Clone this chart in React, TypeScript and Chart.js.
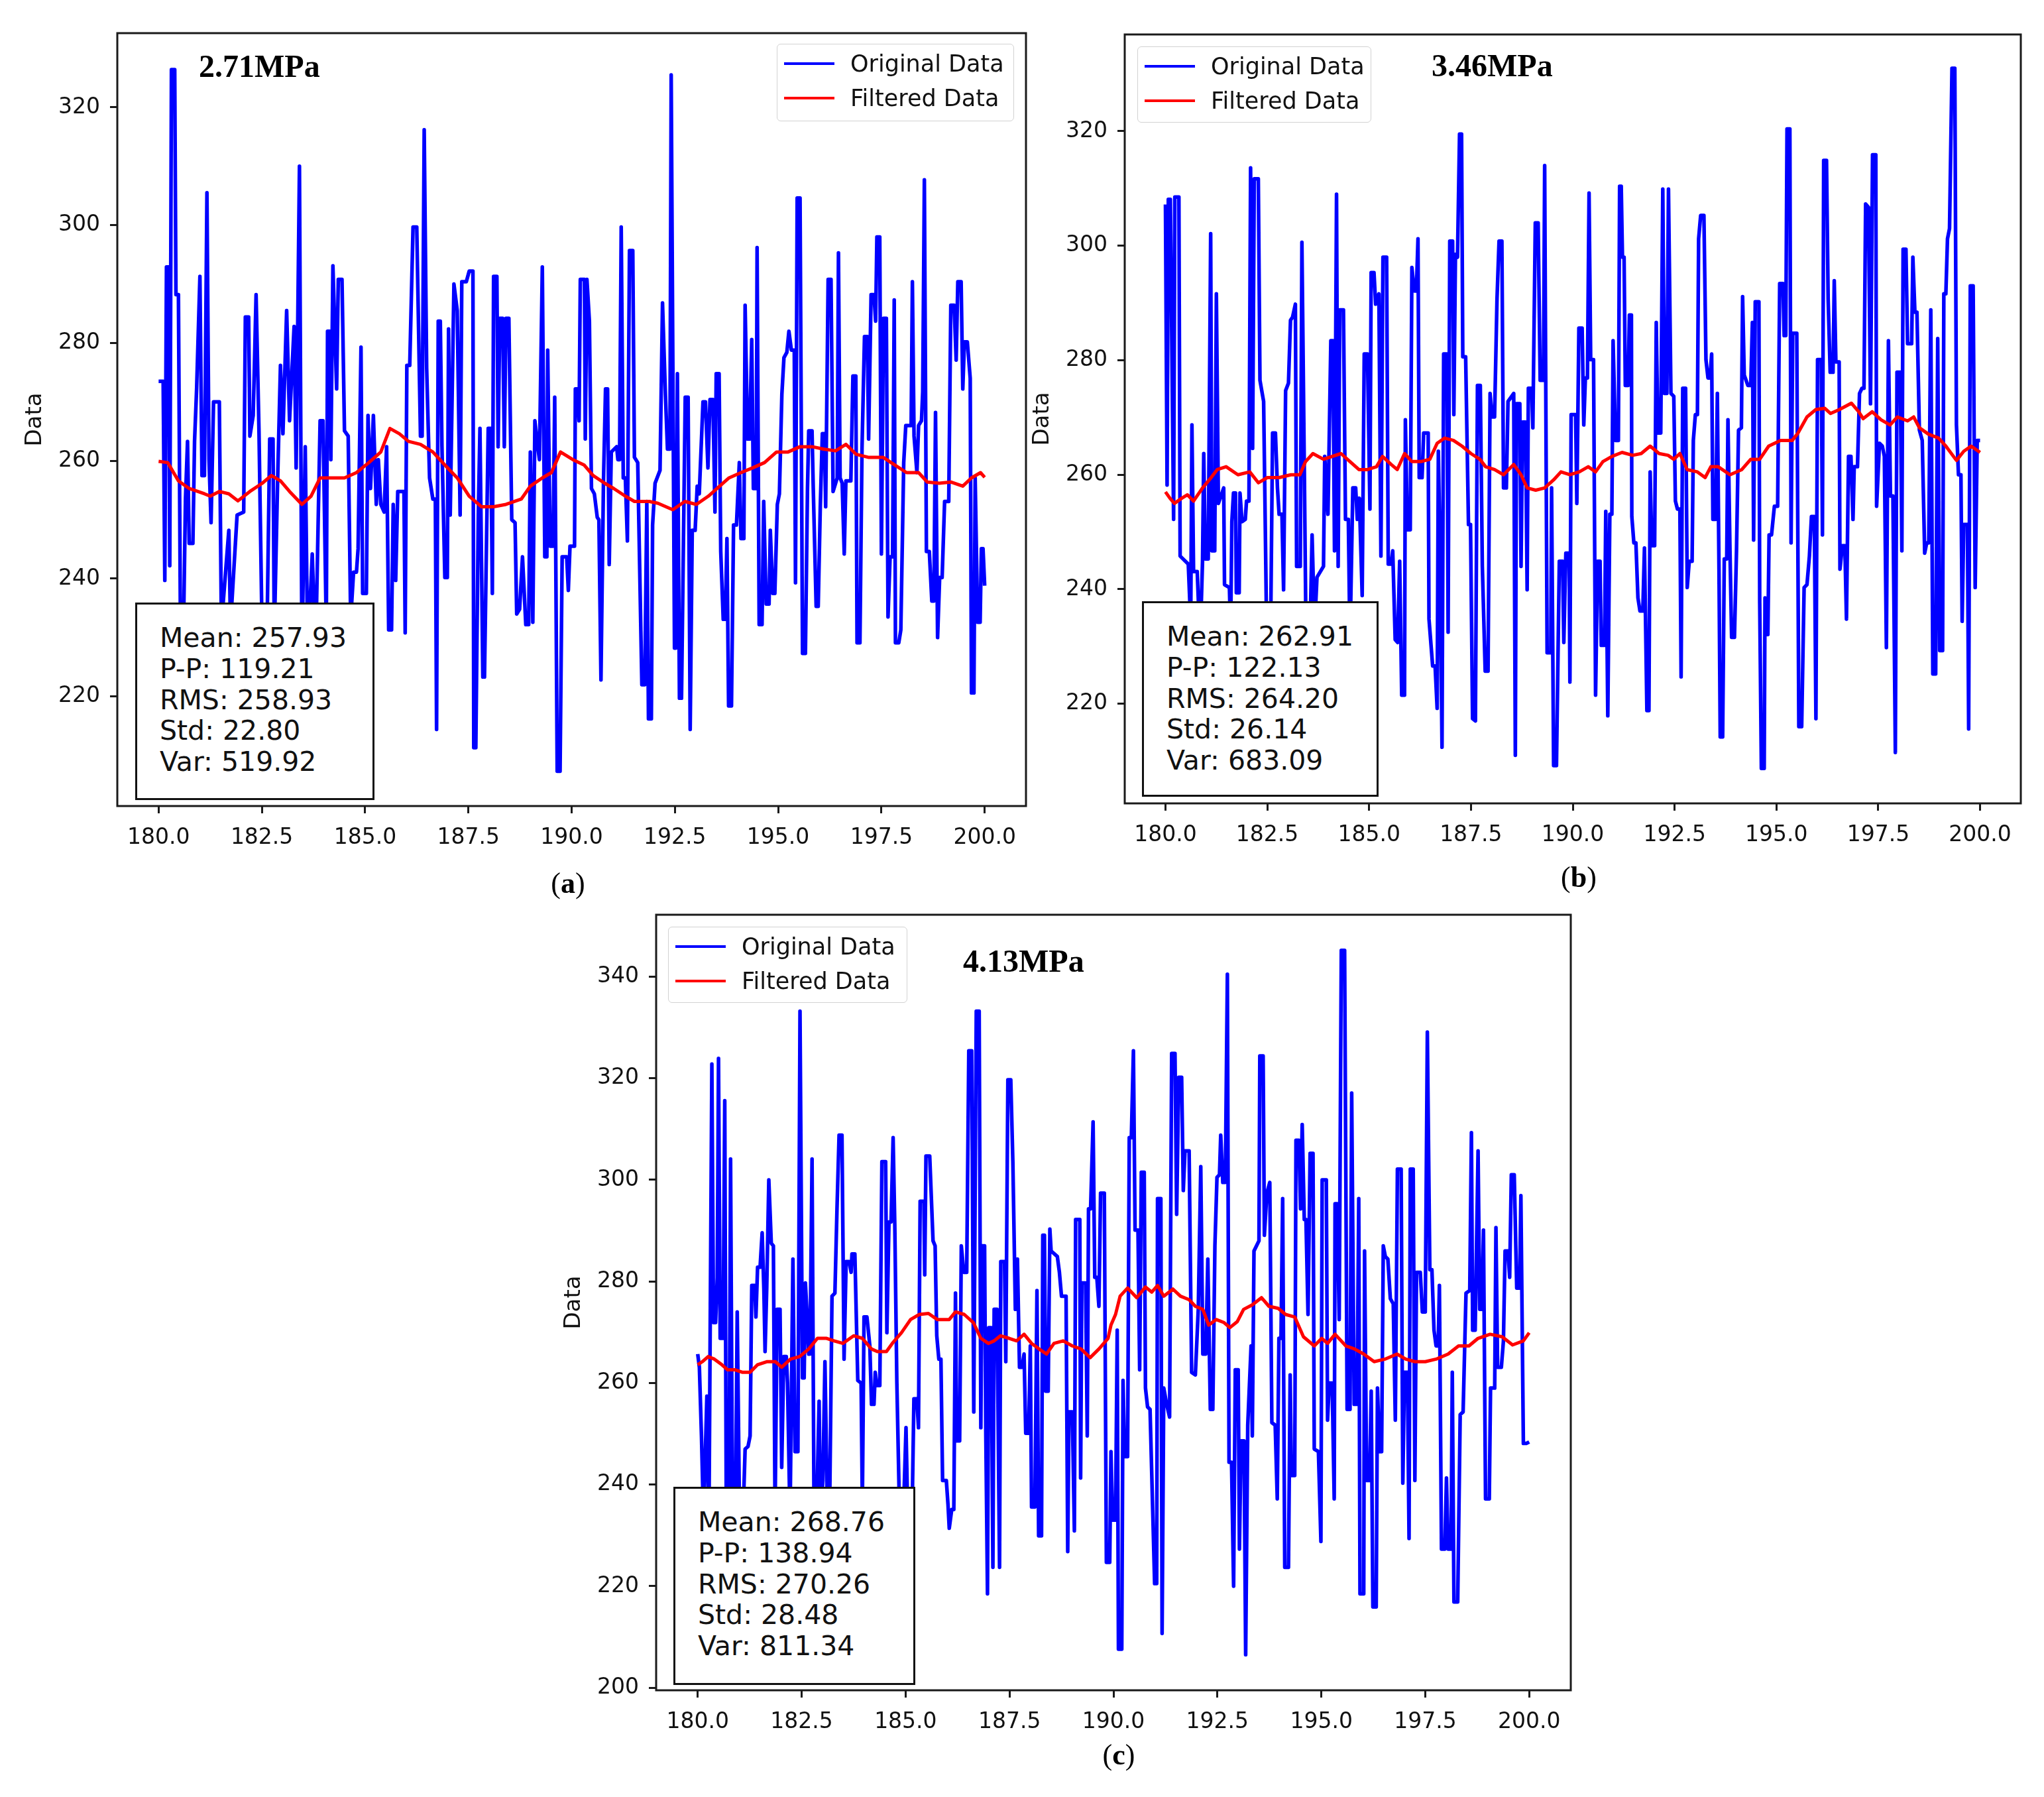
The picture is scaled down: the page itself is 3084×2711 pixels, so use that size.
import { useEffect, useRef } from 'react';
import { Chart, registerables } from 'chart.js';

Chart.register(...registerables);
Chart.defaults.font.family = 'DejaVu Sans';

// ---- panel (a) 2.71MPa ----
const aOrigT = [
  180.00, 180.11, 180.15, 180.19, 180.24, 180.27, 180.31, 180.39, 180.42, 180.48,
  180.53, 180.60, 180.65, 180.70, 180.74, 180.83, 180.87, 180.92, 181.00, 181.05,
  181.11, 181.17, 181.22, 181.27, 181.33, 181.47, 181.52, 181.70, 181.74, 181.90,
  182.06, 182.10, 182.18, 182.21, 182.29, 182.36, 182.43, 182.51, 182.62, 182.69,
  182.77, 182.80, 182.88, 182.95, 183.01, 183.10, 183.17, 183.28, 183.33, 183.41,
  183.47, 183.55, 183.61, 183.72, 183.80, 183.91, 183.98, 184.06, 184.09, 184.14,
  184.17, 184.22, 184.31, 184.35, 184.44, 184.50, 184.59, 184.65, 184.72, 184.79,
  184.83, 184.90, 184.94, 185.03, 185.07, 185.13, 185.20, 185.27, 185.32, 185.38,
  185.46, 185.52, 185.57, 185.64, 185.68, 185.74, 185.79, 185.94, 185.97, 186.01,
  186.08, 186.16, 186.25, 186.34, 186.38, 186.43, 186.49, 186.56, 186.64, 186.70,
  186.73, 186.77, 186.82, 186.86, 186.93, 186.99, 187.02, 187.06, 187.15, 187.23,
  187.30, 187.34, 187.45, 187.52, 187.61, 187.63, 187.68, 187.74, 187.78, 187.85,
  187.89, 187.98, 188.04, 188.08, 188.11, 188.19, 188.22, 188.26, 188.33, 188.37,
  188.41, 188.48, 188.55, 188.63, 188.67, 188.74, 188.81, 188.89, 188.96, 189.00,
  189.06, 189.11, 189.18, 189.22, 189.29, 189.35, 189.40, 189.42, 189.48, 189.55,
  189.59, 189.65, 189.72, 189.77, 189.88, 189.92, 189.96, 190.07, 190.09, 190.14,
  190.18, 190.21, 190.31, 190.33, 190.37, 190.43, 190.48, 190.55, 190.62, 190.66,
  190.71, 190.77, 190.82, 190.87, 190.91, 190.96, 191.09, 191.12, 191.16, 191.20,
  191.25, 191.30, 191.35, 191.40, 191.48, 191.52, 191.60, 191.70, 191.77, 191.82,
  191.86, 191.93, 191.96, 192.02, 192.14, 192.20, 192.27, 192.32, 192.38, 192.41,
  192.49, 192.52, 192.56, 192.61, 192.66, 192.75, 192.82, 192.87, 192.92, 192.99,
  193.04, 193.09, 193.18, 193.24, 193.30, 193.35, 193.42, 193.47, 193.50, 193.57,
  193.61, 193.67, 193.72, 193.76, 193.80, 193.87, 193.92, 193.99, 194.06, 194.10,
  194.17, 194.20, 194.26, 194.31, 194.36, 194.40, 194.47, 194.49, 194.54, 194.61,
  194.65, 194.71, 194.78, 194.81, 194.87, 194.92, 194.98, 195.03, 195.09, 195.14,
  195.21, 195.26, 195.32, 195.39, 195.42, 195.46, 195.53, 195.59, 195.66, 195.71,
  195.74, 195.82, 195.85, 195.92, 195.97, 196.02, 196.07, 196.12, 196.15, 196.21,
  196.28, 196.33, 196.43, 196.46, 196.50, 196.55, 196.60, 196.64, 196.76, 196.81,
  196.88, 196.91, 196.98, 197.03, 197.09, 197.16, 197.19, 197.25, 197.32, 197.36,
  197.39, 197.46, 197.50, 197.55, 197.62, 197.66, 197.71, 197.77, 197.81, 197.84,
  197.92, 197.97, 198.04, 198.09, 198.22, 198.25, 198.29, 198.36, 198.40, 198.47,
  198.50, 198.54, 198.59, 198.66, 198.72, 198.77, 198.81, 198.86, 198.91, 198.97,
  199.03, 199.13, 199.18, 199.26, 199.31, 199.35, 199.43, 199.47, 199.51, 199.58,
  199.65, 199.68, 199.74, 199.77, 199.83, 199.89, 199.92, 199.96, 200.00,
];
const aOrigV = [
  273.5, 273.5, 239.7, 292.9, 292.9, 242.2, 326.4, 326.4, 288.2, 288.2,
  230.0, 230.0, 253.5, 263.3, 246.0, 246.0, 263.3, 272.2, 291.3, 257.5,
  257.5, 305.5, 260.2, 249.5, 270.0, 270.0, 232.0, 248.2, 232.0, 250.8,
  251.3, 284.4, 284.4, 264.2, 267.7, 288.2, 265.1, 228.6, 228.6, 263.7,
  263.7, 230.0, 256.2, 276.2, 264.6, 285.5, 266.8, 282.8, 258.8, 310.0,
  226.8, 262.4, 226.8, 244.2, 226.8, 266.8, 266.8, 231.3, 282.0, 282.0,
  260.2, 293.1, 272.2, 290.8, 290.8, 265.1, 264.2, 233.0, 241.1, 241.1,
  245.1, 279.3, 237.5, 237.5, 267.7, 255.3, 267.7, 252.6, 260.2, 252.6,
  251.3, 262.4, 231.3, 231.3, 252.6, 239.7, 254.8, 254.8, 230.8, 276.2,
  276.2, 299.7, 299.7, 264.2, 264.2, 316.2, 275.7, 257.1, 253.5, 253.5,
  214.4, 283.7, 283.7, 262.4, 240.2, 240.2, 282.4, 250.8, 290.0, 285.5,
  250.8, 290.4, 290.4, 292.2, 292.2, 211.3, 211.3, 250.8, 265.5, 223.3,
  223.3, 265.5, 265.5, 237.5, 291.3, 291.3, 262.4, 284.2, 284.2, 262.4,
  284.2, 284.2, 250.0, 249.5, 234.0, 234.8, 243.7, 232.2, 232.2, 261.5,
  232.6, 266.8, 262.4, 260.2, 292.9, 243.7, 243.7, 278.8, 245.5, 245.5,
  270.8, 207.3, 207.3, 243.7, 243.7, 238.0, 245.5, 245.5, 272.2, 272.2,
  266.8, 290.8, 290.8, 263.7, 290.8, 283.7, 255.3, 254.4, 250.4, 250.0,
  222.8, 256.2, 272.2, 272.2, 242.4, 261.5, 262.4, 260.2, 260.2, 299.7,
  257.1, 257.1, 246.4, 295.7, 295.7, 260.6, 259.7, 222.0, 222.0, 253.1,
  216.2, 216.2, 249.1, 256.2, 258.4, 286.8, 271.3, 262.0, 262.0, 325.5,
  228.2, 228.2, 274.8, 219.7, 219.7, 270.8, 270.8, 214.4, 248.2, 248.2,
  255.7, 254.4, 270.0, 270.0, 258.8, 270.4, 270.4, 251.3, 274.8, 274.8,
  244.6, 233.1, 233.1, 246.8, 218.4, 218.4, 249.1, 249.1, 259.7, 246.8,
  246.8, 286.4, 263.7, 263.7, 280.6, 255.3, 255.3, 296.2, 232.2, 232.2,
  253.1, 235.7, 235.7, 248.2, 237.5, 237.5, 252.6, 254.4, 271.3, 277.5,
  278.4, 282.0, 278.8, 278.8, 239.3, 304.6, 304.6, 227.3, 227.3, 255.3,
  265.1, 265.1, 255.3, 235.3, 235.3, 252.2, 264.6, 264.6, 252.2, 290.8,
  290.8, 254.8, 257.1, 295.3, 257.1, 256.2, 244.2, 256.6, 256.6, 274.4,
  274.4, 229.1, 229.1, 262.0, 281.1, 281.1, 263.7, 288.2, 288.2, 283.7,
  298.0, 298.0, 244.2, 284.2, 284.2, 233.5, 243.7, 243.7, 287.3, 229.1,
  229.1, 231.3, 259.7, 266.0, 266.0, 290.4, 264.2, 258.0, 266.0, 266.8,
  271.7, 307.7, 244.6, 244.6, 236.2, 236.2, 268.2, 230.0, 240.2, 240.2,
  253.1, 253.1, 286.4, 286.4, 277.1, 290.4, 290.4, 272.2, 280.2, 280.2,
  274.0, 220.6, 220.6, 257.1, 232.6, 232.6, 245.1, 245.1, 238.8,
];
const aFiltT = [
  180.00, 180.22, 180.48, 180.74, 181.11, 181.25, 181.47, 181.70, 181.92, 182.21,
  182.51, 182.73, 182.95, 183.17, 183.47, 183.69, 183.91, 184.20, 184.50, 184.79,
  185.09, 185.38, 185.60, 185.83, 186.05, 186.34, 186.64, 186.93, 187.23, 187.52,
  187.82, 188.11, 188.41, 188.78, 189.00, 189.29, 189.51, 189.73, 190.03, 190.30,
  190.52, 190.80, 191.02, 191.30, 191.52, 191.88, 192.09, 192.45, 192.74, 193.02,
  193.31, 193.52, 193.81, 194.10, 194.38, 194.67, 194.96, 195.24, 195.53, 195.82,
  196.10, 196.39, 196.64, 196.89, 197.18, 197.54, 197.82, 198.11, 198.40, 198.61,
  198.90, 199.18, 199.47, 199.68, 199.90, 200.00,
];
const aFiltV = [
  259.9, 259.7, 256.6, 255.3, 254.4, 254.0, 254.8, 254.4, 253.2, 254.8,
  256.2, 257.5, 256.6, 254.8, 252.6, 254.0, 257.1, 257.1, 257.1, 258.0,
  259.7, 261.5, 265.5, 264.6, 263.3, 262.8, 261.5, 259.3, 257.1, 254.0,
  252.2, 252.2, 252.6, 253.5, 255.7, 257.1, 258.0, 261.5, 260.2, 259.3,
  257.5, 256.2, 255.3, 254.0, 253.1, 253.1, 252.8, 251.7, 253.1, 252.6,
  254.0, 255.3, 257.1, 258.0, 258.8, 259.7, 261.5, 261.5, 262.4, 262.4,
  262.0, 261.7, 262.8, 261.1, 260.6, 260.6, 259.3, 258.0, 258.0, 256.4,
  256.2, 256.4, 255.7, 257.1, 258.0, 257.2,
];
const aStats = ['Mean: 257.93', 'P-P: 119.21', 'RMS: 258.93', 'Std: 22.80', 'Var: 519.92'];

// ---- panel (b) 3.46MPa ----
const bOrigT = [
  180.00, 180.04, 180.07, 180.12, 180.20, 180.23, 180.33, 180.36, 180.43, 180.56,
  180.62, 180.65, 180.69, 180.78, 180.85, 180.91, 180.94, 180.98, 181.05, 181.11,
  181.14, 181.21, 181.25, 181.30, 181.43, 181.45, 181.57, 181.60, 181.63, 181.67,
  181.72, 181.74, 181.81, 181.83, 181.88, 181.96, 181.99, 182.05, 182.09, 182.14,
  182.18, 182.28, 182.32, 182.41, 182.44, 182.50, 182.57, 182.63, 182.70, 182.75,
  182.79, 182.86, 182.90, 182.95, 183.02, 183.07, 183.12, 183.19, 183.22, 183.31,
  183.35, 183.41, 183.46, 183.53, 183.60, 183.66, 183.72, 183.88, 183.91, 183.99,
  184.06, 184.11, 184.15, 184.20, 184.24, 184.28, 184.37, 184.42, 184.49, 184.53,
  184.60, 184.67, 184.71, 184.76, 184.83, 184.88, 184.96, 185.02, 185.05, 185.12,
  185.16, 185.24, 185.29, 185.34, 185.43, 185.47, 185.54, 185.58, 185.64, 185.70,
  185.75, 185.80, 185.87, 185.89, 185.94, 186.01, 186.05, 186.11, 186.16, 186.20,
  186.23, 186.30, 186.34, 186.45, 186.47, 186.56, 186.62, 186.67, 186.70, 186.74,
  186.79, 186.83, 186.91, 186.94, 186.98, 187.05, 187.08, 187.12, 187.17, 187.22,
  187.27, 187.30, 187.37, 187.44, 187.49, 187.54, 187.61, 187.66, 187.73, 187.78,
  187.85, 187.92, 187.97, 188.02, 188.08, 188.14, 188.19, 188.26, 188.30, 188.37,
  188.41, 188.55, 188.59, 188.62, 188.70, 188.73, 188.77, 188.84, 188.88, 188.91,
  188.99, 189.02, 189.08, 189.15, 189.20, 189.28, 189.31, 189.37, 189.46, 189.48,
  189.53, 189.60, 189.67, 189.75, 189.78, 189.83, 189.91, 189.93, 189.96, 190.07,
  190.10, 190.15, 190.23, 190.27, 190.31, 190.36, 190.40, 190.44, 190.51, 190.56,
  190.61, 190.67, 190.70, 190.78, 190.81, 190.86, 190.91, 190.96, 190.99, 191.05,
  191.12, 191.15, 191.19, 191.22, 191.26, 191.29, 191.36, 191.39, 191.44, 191.45,
  191.50, 191.55, 191.60, 191.65, 191.72, 191.76, 191.82, 191.87, 191.90, 191.94,
  192.01, 192.05, 192.09, 192.16, 192.21, 192.25, 192.31, 192.35, 192.41, 192.48,
  192.52, 192.57, 192.63, 192.66, 192.70, 192.77, 192.81, 192.86, 192.93, 192.96,
  193.01, 193.06, 193.09, 193.14, 193.22, 193.27, 193.32, 193.37, 193.41, 193.44,
  193.51, 193.55, 193.59, 193.62, 193.68, 193.72, 193.78, 193.81, 193.86, 193.90,
  193.97, 194.02, 194.07, 194.14, 194.17, 194.21, 194.30, 194.37, 194.41, 194.44,
  194.48, 194.57, 194.59, 194.63, 194.70, 194.72, 194.75, 194.79, 194.82, 194.88,
  194.95, 195.03, 195.08, 195.16, 195.19, 195.23, 195.26, 195.33, 195.36, 195.40,
  195.50, 195.55, 195.62, 195.68, 195.75, 195.81, 195.86, 195.93, 195.97, 196.01,
  196.10, 196.13, 196.16, 196.23, 196.27, 196.32, 196.39, 196.42, 196.46, 196.54,
  196.56, 196.62, 196.68, 196.72, 196.77, 196.83, 196.88, 196.91, 196.99, 197.04,
  197.10, 197.15, 197.19, 197.26, 197.31, 197.36, 197.44, 197.46, 197.53, 197.60,
  197.65, 197.70, 197.75, 197.80, 197.86, 197.92, 197.96, 198.04, 198.08, 198.11,
  198.18, 198.22, 198.32, 198.35, 198.40, 198.45, 198.51, 198.58, 198.64, 198.69,
  198.74, 198.79, 198.84, 198.91, 198.96, 199.01, 199.08, 199.11, 199.16, 199.20,
  199.25, 199.31, 199.38, 199.42, 199.47, 199.53, 199.56, 199.60, 199.69, 199.72,
  199.76, 199.83, 199.88, 199.93, 200.00,
];
const bOrigV = [
  307.2, 258.2, 308.1, 308.1, 252.2, 308.5, 308.5, 245.8, 245.3, 244.4,
  233.9, 268.7, 243.1, 243.1, 230.2, 244.9, 263.7, 245.3, 245.3, 302.1,
  246.7, 246.7, 291.6, 255.0, 257.7, 240.8, 240.3, 232.1, 251.8, 256.8,
  256.8, 239.4, 239.4, 256.8, 251.8, 252.2, 255.4, 255.4, 313.6, 264.6,
  311.7, 311.7, 276.5, 272.8, 256.8, 223.8, 223.8, 267.3, 267.3, 257.7,
  253.1, 253.1, 239.9, 274.7, 276.0, 287.0, 287.5, 289.8, 244.0, 244.0,
  300.6, 260.5, 225.7, 225.7, 249.5, 233.0, 242.1, 244.0, 263.2, 253.1,
  283.4, 283.4, 246.7, 309.0, 244.0, 288.8, 288.8, 252.2, 252.2, 230.2,
  257.7, 257.7, 252.2, 255.9, 238.9, 281.1, 281.1, 254.0, 295.3, 295.3,
  289.8, 291.6, 245.8, 298.0, 298.0, 244.4, 244.4, 246.7, 231.2, 230.7,
  244.9, 221.5, 221.5, 269.6, 250.4, 250.4, 296.2, 292.1, 292.1, 301.2,
  259.5, 259.5, 267.3, 267.3, 234.8, 226.6, 226.6, 219.2, 264.1, 246.7,
  212.4, 281.1, 281.1, 232.5, 300.8, 300.8, 270.5, 298.5, 298.0, 319.5,
  319.5, 280.6, 280.6, 251.3, 251.3, 217.4, 217.0, 275.6, 275.6, 244.0,
  225.7, 225.7, 274.2, 270.1, 270.1, 290.7, 300.8, 300.8, 257.7, 257.7,
  272.8, 274.2, 211.0, 272.4, 272.4, 244.0, 269.2, 269.2, 239.9, 275.1,
  275.1, 268.2, 304.0, 304.0, 276.5, 276.5, 314.0, 228.9, 228.9, 257.7,
  209.2, 209.2, 244.9, 244.9, 230.7, 246.3, 246.3, 223.8, 270.5, 270.5,
  255.0, 285.6, 285.6, 268.7, 276.9, 276.9, 309.2, 280.1, 280.1, 221.5,
  244.9, 244.9, 230.2, 230.2, 253.6, 217.9, 253.1, 253.1, 283.4, 266.0,
  266.0, 310.4, 310.4, 298.0, 298.0, 275.6, 275.6, 287.9, 287.9, 252.7,
  248.1, 248.1, 238.5, 236.2, 236.2, 247.2, 218.8, 218.8, 260.5, 247.6,
  247.6, 286.6, 267.3, 267.3, 309.9, 274.2, 274.2, 309.9, 274.2, 273.7,
  255.4, 254.0, 254.0, 224.7, 275.1, 275.1, 240.3, 244.9, 244.9, 266.0,
  270.5, 270.5, 301.2, 305.3, 305.3, 280.1, 276.9, 276.9, 281.1, 252.2,
  252.2, 274.2, 243.5, 214.2, 214.2, 245.3, 245.3, 269.6, 246.7, 231.6,
  231.6, 246.7, 267.8, 268.2, 291.1, 277.4, 275.6, 275.6, 286.6, 248.6,
  290.2, 290.2, 237.6, 208.7, 208.7, 238.5, 232.1, 232.1, 249.5, 249.5,
  254.5, 254.5, 293.4, 293.4, 284.3, 284.3, 320.4, 320.4, 248.1, 284.7,
  284.7, 216.0, 216.0, 240.3, 240.8, 245.8, 252.7, 252.7, 217.4, 280.1,
  280.1, 249.5, 314.9, 314.9, 290.7, 277.9, 277.9, 293.9, 279.7, 279.7,
  243.5, 247.6, 247.6, 234.8, 263.2, 263.2, 252.2, 261.4, 261.4, 274.2,
  275.1, 275.1, 307.3, 306.7, 272.4, 315.9, 315.9, 254.5, 265.5, 265.0,
  263.2, 229.8, 283.4, 256.3, 256.3, 211.5, 277.9, 277.9, 246.7, 299.4,
  299.4, 282.9, 282.9, 298.0, 288.4, 288.4, 267.8, 266.0, 246.3, 248.1,
  248.1, 288.8, 225.2, 225.2, 283.8, 229.3, 229.3, 291.6, 291.6, 301.2,
  303.0, 331.0, 331.0, 268.7, 260.0, 260.0, 234.4, 251.3, 251.3, 215.6,
  293.0, 293.0, 240.3, 266.0, 266.0,
];
const bFiltT = [
  180.00, 180.11, 180.22, 180.40, 180.54, 180.69, 180.91, 181.12, 181.27, 181.49,
  181.78, 182.07, 182.28, 182.50, 182.79, 183.08, 183.30, 183.44, 183.62, 183.88,
  184.09, 184.31, 184.53, 184.75, 184.96, 185.18, 185.33, 185.54, 185.69, 185.87,
  186.05, 186.27, 186.49, 186.67, 186.85, 187.07, 187.28, 187.50, 187.72, 187.86,
  188.08, 188.30, 188.55, 188.73, 188.88, 189.09, 189.31, 189.53, 189.71, 189.93,
  190.16, 190.38, 190.56, 190.74, 190.96, 191.21, 191.47, 191.68, 191.90, 192.12,
  192.34, 192.48, 192.63, 192.81, 193.06, 193.25, 193.39, 193.57, 193.86, 194.15,
  194.37, 194.59, 194.81, 195.10, 195.39, 195.53, 195.75, 195.97, 196.19, 196.33,
  196.55, 196.84, 197.02, 197.13, 197.35, 197.57, 197.79, 197.97, 198.22, 198.37,
  198.51, 198.73, 198.98, 199.16, 199.42, 199.60, 199.78, 200.00,
];
const bFiltV = [
  257.0, 255.9, 255.0, 255.9, 256.5, 255.4, 257.7, 259.5, 260.9, 261.4,
  260.0, 260.5, 258.6, 259.5, 259.5, 260.0, 260.0, 262.3, 263.7, 262.7,
  263.2, 263.7, 262.3, 260.9, 260.9, 261.4, 263.2, 261.8, 260.9, 263.7,
  262.3, 262.3, 262.7, 265.5, 266.4, 266.0, 265.0, 263.7, 262.7, 261.4,
  260.9, 260.0, 261.8, 260.0, 257.7, 257.3, 257.7, 259.1, 260.5, 260.0,
  260.5, 261.4, 260.5, 262.3, 263.2, 263.9, 263.4, 263.7, 265.0, 263.7,
  263.4, 262.7, 263.7, 260.9, 260.5, 259.5, 261.4, 261.4, 260.0, 260.9,
  262.7, 262.7, 265.0, 266.0, 266.0, 267.3, 270.1, 271.4, 271.6, 270.7,
  271.4, 272.5, 271.0, 269.8, 271.0, 269.6, 268.7, 270.1, 269.4, 270.1,
  268.2, 267.1, 266.4, 265.0, 262.5, 264.1, 265.0, 263.9,
];
const bStats = ['Mean: 262.91', 'P-P: 122.13', 'RMS: 264.20', 'Std: 26.14', 'Var: 683.09'];

// ---- panel (c) 4.13MPa ----
const cOrigT = [
  180.00, 180.04, 180.09, 180.14, 180.22, 180.27, 180.34, 180.38, 180.43, 180.47,
  180.50, 180.54, 180.61, 180.65, 180.69, 180.75, 180.79, 180.84, 180.90, 180.95,
  181.01, 181.08, 181.14, 181.21, 181.26, 181.30, 181.37, 181.40, 181.44, 181.50,
  181.55, 181.59, 181.62, 181.66, 181.71, 181.77, 181.82, 181.86, 181.91, 181.98,
  182.02, 182.07, 182.13, 182.16, 182.22, 182.29, 182.34, 182.41, 182.46, 182.52,
  182.56, 182.59, 182.63, 182.67, 182.70, 182.75, 182.80, 182.85, 182.92, 182.95,
  183.01, 183.06, 183.11, 183.17, 183.23, 183.30, 183.35, 183.40, 183.47, 183.52,
  183.57, 183.64, 183.69, 183.71, 183.78, 183.85, 183.93, 183.96, 184.00, 184.07,
  184.14, 184.18, 184.24, 184.27, 184.31, 184.38, 184.43, 184.52, 184.55, 184.60,
  184.65, 184.70, 184.74, 184.79, 184.86, 184.94, 185.01, 185.06, 185.15, 185.20,
  185.27, 185.31, 185.35, 185.44, 185.46, 185.49, 185.58, 185.66, 185.71, 185.75,
  185.80, 185.85, 185.89, 185.98, 186.02, 186.05, 186.11, 186.16, 186.20, 186.23,
  186.30, 186.34, 186.40, 186.47, 186.52, 186.59, 186.64, 186.70, 186.77, 186.81,
  186.84, 186.90, 186.93, 186.97, 187.00, 187.06, 187.10, 187.13, 187.20, 187.26,
  187.29, 187.38, 187.41, 187.46, 187.53, 187.58, 187.64, 187.69, 187.74, 187.80,
  187.85, 187.89, 187.96, 188.00, 188.03, 188.11, 188.16, 188.20, 188.27, 188.30,
  188.34, 188.37, 188.43, 188.47, 188.50, 188.65, 188.70, 188.75, 188.86, 188.90,
  188.93, 189.01, 189.06, 189.09, 189.19, 189.21, 189.24, 189.33, 189.37, 189.40,
  189.45, 189.51, 189.55, 189.60, 189.65, 189.69, 189.78, 189.83, 189.91, 189.94,
  189.98, 190.05, 190.09, 190.12, 190.20, 190.23, 190.27, 190.34, 190.38, 190.43,
  190.48, 190.52, 190.59, 190.63, 190.67, 190.74, 190.77, 190.82, 190.88, 190.96,
  190.99, 191.04, 191.06, 191.14, 191.17, 191.21, 191.28, 191.35, 191.40, 191.48,
  191.52, 191.57, 191.64, 191.68, 191.72, 191.82, 191.88, 191.97, 192.04, 192.10,
  192.15, 192.22, 192.27, 192.33, 192.39, 192.44, 192.49, 192.55, 192.58, 192.63,
  192.69, 192.74, 192.78, 192.84, 192.89, 192.93, 193.00, 193.03, 193.07, 193.14,
  193.18, 193.23, 193.31, 193.34, 193.38, 193.50, 193.52, 193.60, 193.63, 193.69,
  193.76, 193.81, 193.89, 193.94, 193.98, 194.03, 194.07, 194.12, 194.21, 194.25,
  194.28, 194.36, 194.39, 194.46, 194.50, 194.54, 194.59, 194.63, 194.68, 194.73,
  194.80, 194.83, 194.93, 194.99, 195.02, 195.12, 195.15, 195.19, 195.26, 195.31,
  195.33, 195.38, 195.43, 195.48, 195.56, 195.62, 195.69, 195.73, 195.79, 195.86,
  195.90, 195.93, 196.02, 196.04, 196.09, 196.16, 196.20, 196.24, 196.32, 196.35,
  196.40, 196.45, 196.49, 196.54, 196.60, 196.66, 196.73, 196.78, 196.83, 196.92,
  196.96, 197.00, 197.07, 197.11, 197.14, 197.21, 197.25, 197.29, 197.38, 197.43,
  197.50, 197.55, 197.61, 197.66, 197.71, 197.76, 197.81, 197.84, 197.89, 197.97,
  198.01, 198.05, 198.12, 198.15, 198.19, 198.28, 198.34, 198.41, 198.48, 198.57,
  198.61, 198.64, 198.70, 198.77, 198.81, 198.86, 198.90, 198.95, 199.04, 199.07,
  199.17, 199.20, 199.24, 199.33, 199.38, 199.42, 199.49, 199.53, 199.57, 199.64,
  199.70, 199.77, 199.80, 199.86, 199.93, 200.00,
];
const cOrigV = [
  265.7, 263.1, 249.6, 233.0, 257.4, 232.0, 322.8, 271.9, 271.9, 280.8,
  323.9, 268.8, 268.8, 315.6, 228.8, 228.8, 304.1, 228.8, 228.8, 274.0,
  230.9, 230.9, 247.0, 247.5, 249.6, 279.2, 279.2, 273.0, 282.8, 282.8,
  289.6, 278.7, 266.2, 278.7, 300.0, 287.5, 287.0, 234.0, 274.5, 274.5,
  243.4, 265.2, 265.2, 260.0, 233.0, 284.4, 246.5, 246.5, 333.2, 261.0,
  261.0, 279.7, 273.5, 265.7, 265.7, 304.1, 230.9, 230.9, 256.4, 233.0,
  240.8, 264.2, 239.2, 233.0, 277.1, 277.7, 294.3, 308.8, 308.8, 264.7,
  283.9, 283.9, 281.8, 285.4, 285.4, 260.5, 260.0, 236.1, 273.0, 273.0,
  267.3, 255.8, 255.8, 262.1, 259.5, 259.5, 303.6, 303.6, 269.9, 291.7,
  291.7, 308.3, 291.2, 260.0, 232.0, 232.0, 251.2, 230.9, 230.9, 256.9,
  256.9, 251.2, 295.8, 295.8, 281.3, 304.7, 304.7, 288.0, 287.0, 269.3,
  264.7, 264.7, 240.8, 240.8, 236.1, 231.4, 235.1, 235.1, 277.7, 248.6,
  248.6, 287.0, 281.8, 281.8, 325.4, 325.4, 254.3, 333.2, 333.2, 251.2,
  287.0, 287.0, 249.6, 218.5, 270.9, 270.9, 223.7, 274.5, 274.5, 223.7,
  283.9, 283.9, 264.2, 319.7, 319.7, 303.6, 274.5, 284.4, 263.1, 263.1,
  265.7, 250.1, 250.1, 267.3, 235.6, 235.6, 278.2, 229.9, 229.9, 289.1,
  289.1, 258.4, 258.4, 290.3, 286.0, 284.9, 281.8, 277.1, 277.1, 226.8,
  254.3, 254.3, 230.9, 292.2, 292.2, 241.3, 279.7, 279.7, 249.6, 294.3,
  294.3, 311.4, 280.8, 280.8, 275.1, 297.4, 297.4, 224.7, 224.7, 246.5,
  233.0, 233.0, 270.4, 207.6, 207.6, 260.5, 245.5, 245.5, 308.3, 308.3,
  325.4, 290.1, 290.1, 262.6, 301.5, 301.5, 259.0, 255.3, 254.8, 229.9,
  220.5, 220.5, 296.3, 296.3, 210.7, 259.0, 255.8, 253.3, 324.9, 324.9,
  293.2, 320.2, 320.2, 297.9, 305.7, 305.7, 262.1, 261.6, 274.5, 302.6,
  265.7, 265.7, 284.4, 254.8, 254.8, 287.0, 300.5, 301.0, 308.8, 299.5,
  299.5, 340.5, 244.4, 244.4, 220.0, 262.6, 262.6, 227.3, 248.6, 248.6,
  206.5, 251.7, 267.3, 249.6, 286.0, 288.0, 324.4, 324.4, 289.1, 297.4,
  299.5, 252.2, 251.7, 237.2, 268.8, 268.8, 296.3, 223.7, 223.7, 261.6,
  241.8, 241.8, 307.8, 307.8, 294.3, 310.9, 292.2, 292.2, 273.5, 305.2,
  305.2, 247.0, 246.5, 228.8, 300.0, 300.0, 252.7, 260.0, 260.0, 237.2,
  295.3, 295.3, 272.5, 345.2, 345.2, 254.8, 254.8, 317.1, 255.8, 255.8,
  296.3, 218.5, 218.5, 286.0, 240.8, 240.8, 258.4, 215.9, 215.9, 259.0,
  246.5, 246.5, 287.0, 284.9, 284.4, 276.6, 275.6, 252.7, 302.1, 302.1,
  240.3, 262.1, 262.1, 229.4, 302.1, 302.1, 240.8, 281.8, 281.8, 274.0,
  274.0, 329.1, 282.3, 282.3, 270.4, 267.3, 267.3, 279.2, 227.3, 227.3,
  241.3, 227.3, 227.3, 262.1, 216.9, 216.9, 253.8, 254.3, 277.7, 278.2,
  309.3, 270.4, 270.4, 305.7, 274.5, 274.5, 290.1, 237.2, 237.2, 259.0,
  259.0, 290.6, 263.1, 263.1, 268.3, 286.0, 286.0, 280.8, 301.0, 301.0,
  278.7, 278.7, 296.9, 248.1, 248.1, 248.4,
];
const cFiltT = [
  180.00, 180.11, 180.25, 180.40, 180.58, 180.72, 180.90, 181.08, 181.26, 181.44,
  181.66, 181.87, 182.02, 182.23, 182.45, 182.67, 182.88, 183.10, 183.28, 183.49,
  183.75, 183.96, 184.18, 184.32, 184.54, 184.68, 184.90, 185.12, 185.33, 185.55,
  185.76, 186.05, 186.20, 186.41, 186.63, 186.81, 186.99, 187.13, 187.28, 187.49,
  187.67, 187.85, 188.03, 188.21, 188.39, 188.57, 188.79, 189.01, 189.22, 189.44,
  189.65, 189.87, 189.94, 190.05, 190.16, 190.34, 190.56, 190.77, 190.92, 191.06,
  191.21, 191.43, 191.61, 191.82, 191.97, 192.15, 192.29, 192.47, 192.66, 192.80,
  192.98, 193.13, 193.34, 193.56, 193.74, 193.96, 194.14, 194.36, 194.57, 194.83,
  195.01, 195.15, 195.33, 195.59, 195.80, 196.02, 196.27, 196.53, 196.82, 197.03,
  197.25, 197.50, 197.76, 198.05, 198.30, 198.55, 198.77, 199.06, 199.35, 199.60,
  199.86, 200.00,
];
const cFiltV = [
  263.6, 264.2, 265.2, 264.7, 263.6, 262.6, 262.6, 262.1, 262.1, 263.6,
  264.2, 264.2, 263.1, 264.7, 265.2, 266.7, 268.8, 268.8, 268.3, 267.8,
  269.3, 268.8, 266.7, 266.2, 266.2, 267.8, 269.9, 272.5, 273.5, 273.7,
  272.5, 272.5, 274.0, 273.5, 271.9, 268.8, 267.8, 268.3, 269.3, 268.8,
  268.3, 269.6, 267.8, 266.7, 265.7, 267.8, 268.3, 267.3, 266.7, 265.0,
  266.7, 268.8, 271.4, 273.5, 277.1, 278.7, 276.8, 278.9, 277.9, 279.2,
  277.1, 278.5, 277.1, 276.4, 275.1, 274.5, 271.4, 272.5, 271.9, 270.9,
  272.1, 274.5, 275.4, 276.8, 275.1, 274.7, 273.5, 273.0, 269.1, 267.3,
  268.8, 267.8, 269.6, 267.3, 266.7, 265.7, 264.2, 264.7, 265.7, 264.7,
  264.2, 264.2, 264.7, 265.7, 267.3, 267.3, 268.8, 269.6, 269.1, 267.5,
  268.3, 269.9,
];
const cStats = ['Mean: 268.76', 'P-P: 138.94', 'RMS: 270.26', 'Std: 28.48', 'Var: 811.34'];

const legendLabels = ['Original Data', 'Filtered Data'];
const xMin = 179;
const xMax = 201;

const BLUE = '#0000ff';
const RED = '#ff0000';
const INK = '#111111';
const Y_AXIS_W = 160;
const X_AXIS_H = 90;
const PAD_TOP = 50; // larger than the y scale's own label padding, so the plot top lands exactly
const PAD_RIGHT = 20;

const toPoints = (t: number[], v: number[]) => t.map((x, i) => ({ x, y: v[i] }));

const framePlugin = {
  id: 'frame',
  afterDatasetsDraw(chart: any) {
    const { ctx, chartArea } = chart;
    ctx.save();
    ctx.strokeStyle = '#1a1a1a';
    ctx.lineWidth = 3;
    ctx.strokeRect(chartArea.left, chartArea.top, chartArea.right - chartArea.left, chartArea.bottom - chartArea.top);
    ctx.restore();
  },
};

type Box = { left: number; top: number; width: number; height: number };

type PanelProps = {
  plot: { left: number; top: number; right: number; bottom: number };
  yMin: number;
  yMax: number;
  origT: number[];
  origV: number[];
  filtT: number[];
  filtV: number[];
};

function PanelChart({ plot, yMin, yMax, origT, origV, filtT, filtV }: PanelProps) {
  const ref = useRef<HTMLCanvasElement | null>(null);
  const width = plot.right - plot.left + Y_AXIS_W + PAD_RIGHT;
  const height = plot.bottom - plot.top + PAD_TOP + X_AXIS_H;

  useEffect(() => {
    if (!ref.current) return;
    const tickFont = { family: 'DejaVu Sans', size: 33 };
    const grid = {
      display: true,
      drawOnChartArea: false,
      drawTicks: true,
      tickLength: 11,
      tickWidth: 3,
      tickColor: '#1a1a1a',
    };
    const chart = new Chart(ref.current, {
      type: 'line',
      data: {
        datasets: [
          {
            label: legendLabels[1],
            data: toPoints(filtT, filtV),
            borderColor: RED,
            borderWidth: 5,
            pointRadius: 0,
            tension: 0,
            fill: false,
            borderJoinStyle: 'round',
          },
          {
            label: legendLabels[0],
            data: toPoints(origT, origV),
            borderColor: BLUE,
            borderWidth: 5.5,
            pointRadius: 0,
            tension: 0,
            fill: false,
            borderJoinStyle: 'round',
          },
        ],
      },
      options: {
        responsive: false,
        animation: false,
        devicePixelRatio: 1,
        events: [],
        layout: { padding: { left: 0, top: PAD_TOP, right: PAD_RIGHT, bottom: 0 } },
        plugins: { legend: { display: false }, tooltip: { enabled: false } },
        scales: {
          x: {
            type: 'linear',
            min: xMin,
            max: xMax,
            ticks: {
              stepSize: 2.5,
              includeBounds: false,
              autoSkip: false,
              maxRotation: 0,
              padding: 18,
              color: INK,
              font: tickFont,
              callback: (v: any) => Number(v).toFixed(1),
            },
            grid,
            border: { display: false },
            afterFit: (s: any) => {
              s.height = X_AXIS_H;
            },
          },
          y: {
            type: 'linear',
            min: yMin,
            max: yMax,
            ticks: {
              stepSize: 20,
              includeBounds: false,
              padding: 15,
              color: INK,
              font: tickFont,
            },
            grid,
            border: { display: false },
            title: {
              display: true,
              text: 'Data',
              color: INK,
              font: { family: 'DejaVu Sans', size: 34 },
              padding: { top: 16, bottom: 0 },
            },
            afterFit: (s: any) => {
              s.width = Y_AXIS_W;
            },
          },
        },
      } as any,
      plugins: [framePlugin],
    });
    return () => {
      chart.destroy();
    };
  }, []);

  return (
    <canvas
      ref={ref}
      width={width}
      height={height}
      style={{
        position: 'absolute',
        left: plot.left - Y_AXIS_W,
        top: plot.top - PAD_TOP,
        width,
        height,
      }}
    />
  );
}

function LegendBox({ left, top, width, height }: Box) {
  const text = {
    position: 'absolute' as const,
    left: 110,
    fontFamily: 'DejaVu Sans',
    fontSize: 35,
    lineHeight: '35px',
    whiteSpace: 'nowrap' as const,
    color: INK,
  };
  return (
    <div
      style={{
        position: 'absolute',
        left,
        top,
        width,
        height,
        boxSizing: 'border-box',
        border: '1.5px solid #d2d2d2',
        borderRadius: 6,
        background: 'rgba(255,255,255,0.8)',
      }}
    >
      <div style={{ position: 'absolute', left: 10, top: 27, width: 76, height: 4, background: BLUE }} />
      <div style={{ position: 'absolute', left: 10, top: 79, width: 76, height: 4, background: RED }} />
      <div style={{ ...text, top: 12 }}>{legendLabels[0]}</div>
      <div style={{ ...text, top: 64 }}>{legendLabels[1]}</div>
    </div>
  );
}

function StatsBox({ left, top, width, height, lines }: Box & { lines: string[] }) {
  return (
    <div
      style={{
        position: 'absolute',
        left,
        top,
        width,
        height,
        boxSizing: 'border-box',
        border: '3px solid #111',
        background: '#fff',
        paddingLeft: 34,
        paddingTop: 27,
        fontFamily: 'DejaVu Sans',
        fontSize: 41,
        lineHeight: '46.8px',
        color: INK,
        whiteSpace: 'nowrap',
      }}
    >
      {lines.map((l) => (
        <div key={l}>{l}</div>
      ))}
    </div>
  );
}

function Label({ left, top, children }: { left: number; top: number; children: any }) {
  return (
    <div
      style={{
        position: 'absolute',
        left,
        top,
        fontFamily: 'Liberation Serif',
        fontWeight: 'bold',
        fontSize: 48,
        lineHeight: '48px',
        whiteSpace: 'nowrap',
        color: '#000',
      }}
    >
      {children}
    </div>
  );
}

function PanelLetter({ cx, top, letter }: { cx: number; top: number; letter: string }) {
  return (
    <div
      style={{
        position: 'absolute',
        left: cx - 60,
        top,
        width: 120,
        textAlign: 'center',
        fontFamily: 'Liberation Serif',
        fontSize: 44,
        lineHeight: '44px',
        color: '#000',
      }}
    >
      (<b>{letter}</b>)
    </div>
  );
}

export default function App() {
  return (
    <div style={{ position: 'absolute', left: 0, top: 0, width: 3084, height: 2711, background: '#fff' }}>
      <PanelChart
        plot={{ left: 177, top: 50, right: 1548, bottom: 1216 }}
        yMin={201.4}
        yMax={332.6}
        origT={aOrigT}
        origV={aOrigV}
        filtT={aFiltT}
        filtV={aFiltV}
      />
      <PanelChart
        plot={{ left: 1697, top: 52, right: 3049, bottom: 1212 }}
        yMin={202.6}
        yMax={336.9}
        origT={bOrigT}
        origV={bOrigV}
        filtT={bFiltT}
        filtV={bFiltV}
      />
      <PanelChart
        plot={{ left: 990, top: 1380, right: 2370, bottom: 2550 }}
        yMin={199.5}
        yMax={352.2}
        origT={cOrigT}
        origV={cOrigV}
        filtT={cFiltT}
        filtV={cFiltV}
      />

      <Label left={300} top={76}>2.71MPa</Label>
      <Label left={2160} top={75}>3.46MPa</Label>
      <Label left={1453} top={1426}>4.13MPa</Label>

      <LegendBox left={1172} top={66} width={358} height={117} />
      <LegendBox left={1716} top={70} width={353} height={115} />
      <LegendBox left={1008} top={1398} width={361} height={115} />

      <StatsBox left={204} top={909} width={361} height={298} lines={aStats} />
      <StatsBox left={1723} top={907} width={357} height={295} lines={bStats} />
      <StatsBox left={1016} top={2243} width={365} height={299} lines={cStats} />

      <PanelLetter cx={857} top={1311} letter="a" />
      <PanelLetter cx={2382} top={1302} letter="b" />
      <PanelLetter cx={1688} top={2626} letter="c" />
    </div>
  );
}
